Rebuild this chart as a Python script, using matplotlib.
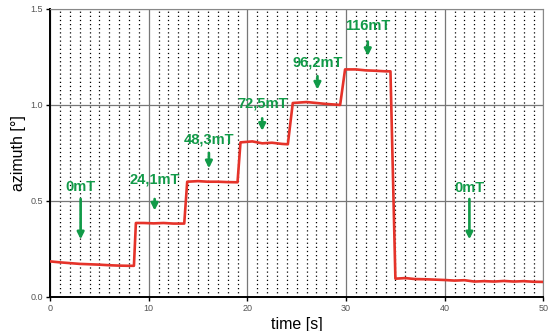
import matplotlib.pyplot as plt
from matplotlib.ticker import MultipleLocator

plt.rcParams["font.family"] = ["Liberation Sans", "DejaVu Sans"]

time_s = [0, 1, 2, 3, 4, 5, 6, 7, 8, 8.5, 8.7, 9.5, 10.5, 11.5, 12.5, 13.6,
          13.9, 15, 16, 17, 18, 19.0, 19.3, 20.5, 21.5, 22.5, 23.5, 24.1,
          24.6, 26, 27, 28, 29.4, 29.9, 31, 32, 33, 34.0, 34.5, 35.0, 36, 37,
          38, 39, 40, 41, 42, 43, 44, 45, 46, 47, 48, 49, 50]
azimuth = [0.185, 0.18, 0.176, 0.172, 0.17, 0.168, 0.165, 0.163, 0.162, 0.162,
           0.385, 0.385, 0.383, 0.385, 0.382, 0.382, 0.60, 0.603, 0.60, 0.60,
           0.598, 0.597, 0.805, 0.81, 0.80, 0.803, 0.797, 0.795, 1.01, 1.015,
           1.01, 1.005, 1.0, 1.185, 1.185, 1.18, 1.178, 1.175, 1.175, 0.095,
           0.098, 0.093, 0.092, 0.09, 0.088, 0.085, 0.087, 0.08, 0.082, 0.08,
           0.083, 0.08, 0.082, 0.079, 0.078]

labels = ["0mT", "24,1mT", "48,3mT", "72,5mT", "96,2mT", "116mT", "0mT"]
arrow_x = [3.1, 10.6, 16.1, 21.5, 27.1, 32.2, 42.5]
arrow_tip = [0.30, 0.45, 0.67, 0.865, 1.08, 1.255, 0.30]
arrow_tail = [0.51, 0.51, 0.75, 0.93, 1.15, 1.33, 0.51]
label_y = [0.575, 0.61, 0.82, 1.01, 1.22, 1.41, 0.565]

green = "#119a48"
red = "#e5332a"

fig, ax = plt.subplots(figsize=(5.5, 3.31), dpi=100)
fig.subplots_adjust(left=0.091, right=0.988, top=0.973, bottom=0.103)

ax.plot(time_s, azimuth, color=red, linewidth=1.9, zorder=3)

for lab, x, tip, tail, ly in zip(labels, arrow_x, arrow_tip, arrow_tail, label_y):
    ax.annotate("", xy=(x, tip), xytext=(x, tail),
                arrowprops=dict(arrowstyle="-|>", color=green, lw=1.9,
                                mutation_scale=10, shrinkA=0, shrinkB=0),
                zorder=4)
    ax.text(x, ly, lab, color=green, fontsize=10.5, fontweight="bold",
            ha="center", va="center", zorder=4)

ax.set_xlim(0, 50)
ax.set_ylim(0, 1.5)
ax.xaxis.set_major_locator(MultipleLocator(10))
ax.xaxis.set_minor_locator(MultipleLocator(1))
ax.yaxis.set_major_locator(MultipleLocator(0.5))
ax.set_yticklabels([f"{v:.1f}" for v in ax.get_yticks()])

ax.grid(True, which="major", color="#777777", linewidth=0.9)
ax.grid(True, which="minor", axis="x", color="black", linestyle=(0, (1, 2.3)),
        linewidth=0.9)

ax.tick_params(which="major", direction="out", length=3, labelsize=6.5,
               labelcolor="#555555", width=1, pad=2)
ax.tick_params(which="minor", length=0)

for side in ["left", "bottom"]:
    ax.spines[side].set_linewidth(1.4)
    ax.spines[side].set_color("black")
for side in ["top", "right"]:
    ax.spines[side].set_color("#888888")
    ax.spines[side].set_linewidth(0.8)

ax.set_xlabel("time [s]", fontsize=11.5, labelpad=3)
ax.set_ylabel("azimuth [°]", fontsize=11.5, labelpad=3)

fig.savefig("out.png", dpi=100)
